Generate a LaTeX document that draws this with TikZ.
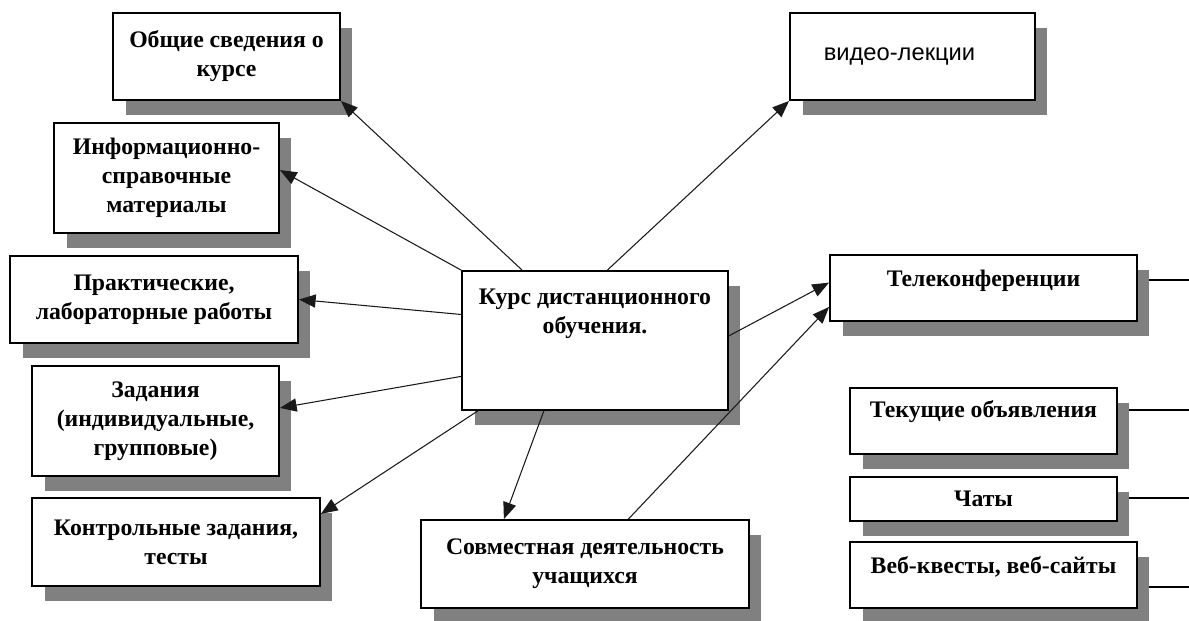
\documentclass[tikz,border=0pt]{standalone}
\usepackage{fontspec}
\setmainfont{Liberation Serif}
\newfontfamily\lekfont{Liberation Sans}
\usepackage{tikz}
\usetikzlibrary{arrows.meta,shadows,backgrounds}

\begin{document}
\begin{tikzpicture}
	[x=0.02cm,y=-0.02cm,
	blok/.style={rectangle,draw=black,fill=white,line width=1.1pt,
		inner sep=2pt,align=center,
		font=\fontsize{13.5}{16.5}\selectfont\bfseries,
		drop shadow={shadow xshift=0.25cm,shadow yshift=-0.3cm,fill=black!50,opacity=1}},
	strelka/.style={-{Triangle[length=9.5pt,width=7.5pt]},line width=0.6pt,black!90},
	linija/.style={line width=0.8pt,black}]
\useasboundingbox (0,0) rectangle (1189,620);
%левая колонка
\node (obsh) at (226.5,56.5) [blok,minimum width=4.54cm,minimum height=1.74cm] {Общие сведения о\\курсе};
\node (info) at (166.5,178) [blok,minimum width=4.5cm,minimum height=2.2cm] {Информационно-\\справочные\\материалы};
\node (prakt) at (154,299.5) [blok,minimum width=5.76cm,minimum height=1.74cm] {Практические,\\лабораторные работы};
\node (zad) at (155.5,421) [blok,minimum width=4.94cm,minimum height=2.2cm] {Задания\\(индивидуальные,\\групповые)};
\node (kontr) at (176,542) [blok,minimum width=5.76cm,minimum height=1.76cm] {Контрольные задания,\\тесты};
%центр
\node (kurs) at (595,340.5) [blok,minimum width=5.32cm,minimum height=2.78cm,text depth=1.17cm] {Курс дистанционного\\обучения.};
\node (sovm) at (585,564) [blok,minimum width=6.56cm,minimum height=1.76cm] {Совместная деятельность\\учащихся};
%правая колонка
\node (video) at (912.5,56.5) [blok,minimum width=4.9cm,minimum height=1.74cm,
	font=\fontsize{13.5}{16.5}\selectfont\lekfont] {видео-лекции\hspace*{0.52cm}};
\node (tele) at (983.5,288) [blok,minimum width=6.14cm,minimum height=1.32cm,text depth=0.38cm] {Телеконференции};
\node (tek) at (983.5,421) [blok,minimum width=5.34cm,minimum height=1.32cm,text depth=0.5cm] {Текущие объявления};
\node (chat) at (983.5,499) [blok,minimum width=5.34cm,minimum height=0.88cm] {Чаты};
\node (veb) at (993.5,575) [blok,minimum width=5.74cm,minimum height=1.32cm,text depth=0.42cm] {Веб-квесты, веб-сайты};
%линии к краю
\coordinate (eTele) at (1189,280);
\coordinate (eTek) at (1189,410);
\coordinate (eChat) at (1189,498);
\coordinate (eVeb) at (1189,587);
\begin{scope}[on background layer]
\draw[linija] (eTele -| tele.east) -- (eTele);
\draw[linija] (eTek -| tek.east) -- (eTek);
\draw[linija] (eChat -| chat.east) -- (eChat);
\draw[linija] (eVeb -| veb.east) -- (eVeb);
\end{scope}
%стрелки
\draw[strelka] (kurs.136) -- (obsh.south east);
\draw[strelka] (kurs.north west) -- (info.4);
\draw[strelka] (kurs.169) -- (prakt.east);
\draw[strelka] (kurs.195) -- (zad.6);
\draw[strelka] (kurs.211) -- (kontr.11);
\draw[strelka] (kurs.234) -- (sovm.151);
\draw[strelka] (kurs.80) -- (video.south west);
\draw[strelka] (kurs.2) -- (tele.178);
\draw[strelka] (sovm.46) -- (tele.187);
\end{tikzpicture}
\end{document}
